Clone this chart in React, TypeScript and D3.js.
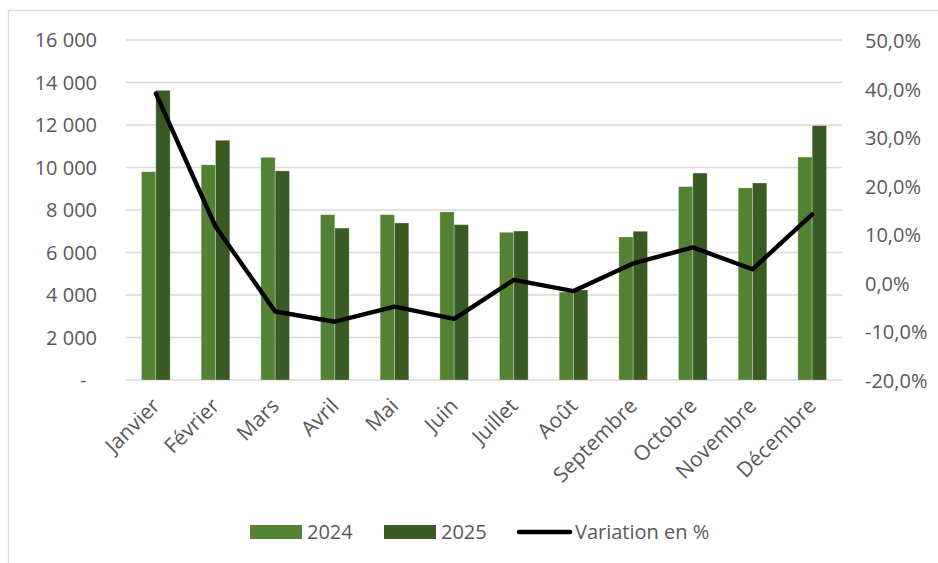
import React from "react";
import * as d3 from "d3";

// Monthly volumes and year-over-year variation
const months = [
  "Janvier", "Février", "Mars", "Avril", "Mai", "Juin",
  "Juillet", "Août", "Septembre", "Octobre", "Novembre", "Décembre",
];
const values2024 = [9800, 10130, 10480, 7780, 7780, 7910, 6950, 4140, 6730, 9100, 9040, 10490];
const values2025 = [13630, 11280, 9840, 7150, 7390, 7310, 7010, 4235, 7000, 9740, 9270, 11970];
const variationPct = [39.0, 11.6, -5.9, -8.0, -4.9, -7.4, 0.6, -1.7, 4.0, 7.3, 2.8, 14.1];
const series = ["2024", "2025"];
const leftTicks = [0, 2000, 4000, 6000, 8000, 10000, 12000, 14000, 16000];
const rightTicks = [-20, -10, 0, 10, 20, 30, 40, 50];

const W = 938;
const H = 563;
const plot = { left: 126, right: 842, top: 40, bottom: 380 };
const colors: Record<string, string> = { "2024": "#548235", "2025": "#3a5a24" };
const textColor = "#595959";
const gridColor = "#d9d9d9";
const font = "'Open Sans', sans-serif";

const fmtThousands = (v: number) =>
  v === 0 ? "-" : d3.format(",")(v).replace(/,/g, "\u00a0");
const fmtPct = (v: number) =>
  d3.format(".1f")(v).replace(".", ",").replace("\u2212", "-") + "%";

export default function App() {
  const x = d3
    .scaleBand<string>()
    .domain(months)
    .range([plot.left, plot.right])
    .paddingInner(0.52)
    .paddingOuter(0.26);
  const xs = d3.scaleBand<string>().domain(series).range([0, x.bandwidth()]);
  const yL = d3.scaleLinear().domain([0, 16000]).range([plot.bottom, plot.top]);
  const yR = d3.scaleLinear().domain([-20, 50]).range([plot.bottom, plot.top]);
  const cx = (m: string) => (x(m) as number) + x.bandwidth() / 2;

  const line = d3
    .line<number>()
    .x((_, i) => cx(months[i]))
    .y((d) => yR(d));

  const seriesValues: Record<string, number[]> = { "2024": values2024, "2025": values2025 };

  return (
    <div style={{ position: "absolute", left: 0, top: 0 }}>
      <svg width={W} height={H} style={{ display: "block", fontFamily: font }}>
        <rect x={0} y={0} width={W} height={H} fill="#ffffff" />
        <rect x={8.5} y={10.5} width={W + 20} height={H + 20} fill="none" stroke={gridColor} strokeWidth={1.3} />

        {/* horizontal gridlines */}
        {leftTicks.map((t) => (
          <line
            key={"g" + t}
            x1={plot.left}
            x2={plot.right}
            y1={yL(t)}
            y2={yL(t)}
            stroke={gridColor}
            strokeWidth={1.3}
          />
        ))}

        {/* left axis labels */}
        {leftTicks.map((t) => (
          <text
            key={"l" + t}
            x={t === 0 ? 86.5 : 97}
            y={yL(t) + 7.2}
            textAnchor="end"
            fontSize={20}
            fill={textColor}
          >
            {fmtThousands(t)}
          </text>
        ))}

        {/* right axis labels */}
        {rightTicks.map((t) => (
          <text key={"r" + t} x={865} y={yR(t) + 8} textAnchor="start" fontSize={20} fill={textColor}>
            {fmtPct(t)}
          </text>
        ))}

        {/* bars */}
        {series.map((s) =>
          months.map((m, i) => {
            const v = seriesValues[s][i];
            const bx = (x(m) as number) + (xs(s) as number);
            return (
              <rect
                key={s + m}
                x={bx}
                y={yL(v)}
                width={xs.bandwidth()}
                height={yL(0) - yL(v)}
                fill={colors[s]}
                stroke="#ffffff"
                strokeOpacity={0.35}
                strokeWidth={0.8}
              />
            );
          })
        )}

        {/* variation line */}
        <path
          d={line(variationPct) || ""}
          fill="none"
          stroke="#000000"
          strokeWidth={4.4}
          strokeLinejoin="round"
          strokeLinecap="round"
        />

        {/* category labels */}
        {months.map((m) => (
          <text
            key={"x" + m}
            transform={`translate(${cx(m)},${plot.bottom + 22}) rotate(-45)`}
            textAnchor="end"
            dy="0.35em"
            fontSize={21}
            fill={textColor}
          >
            {m}
          </text>
        ))}

        {/* legend */}
        <rect x={250} y={525} width={52} height={14} fill={colors["2024"]} />
        <text x={307} y={539} fontSize={20} fill={textColor}>2024</text>
        <rect x={384} y={525} width={52} height={14} fill={colors["2025"]} />
        <text x={441} y={539} fontSize={20} fill={textColor}>2025</text>
        <line x1={519} x2={570} y1={532} y2={532} stroke="#000" strokeWidth={4.5} strokeLinecap="round" />
        <text x={575} y={539} fontSize={20} fill={textColor}>Variation en %</text>
      </svg>
    </div>
  );
}
